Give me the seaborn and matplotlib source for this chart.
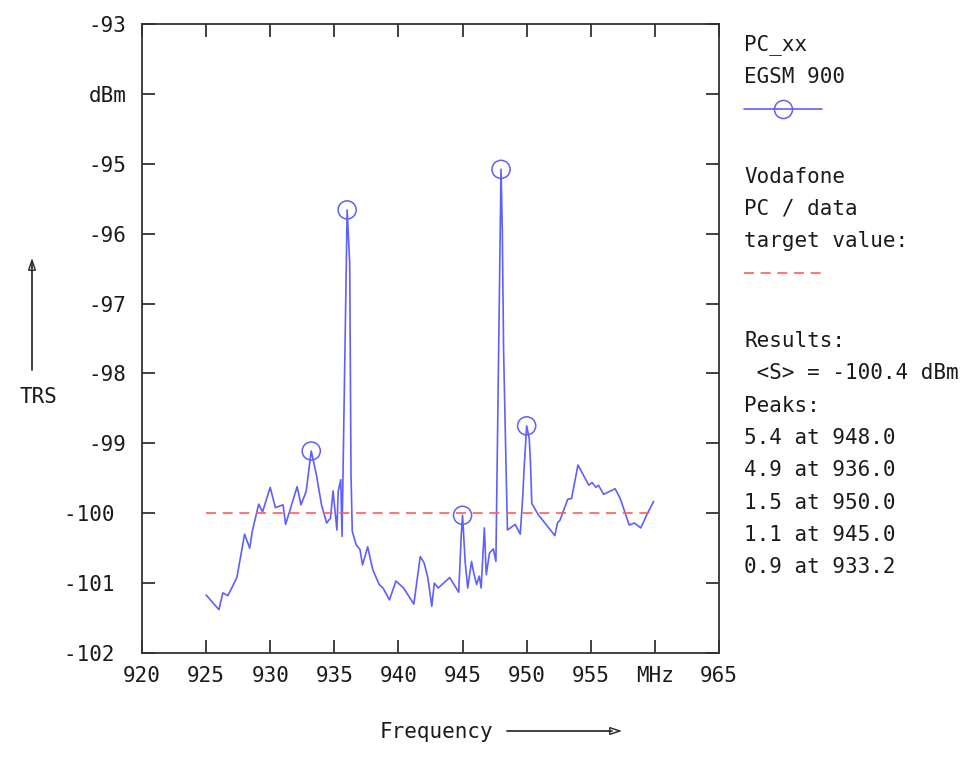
import matplotlib
matplotlib.use("Agg")
import matplotlib.pyplot as plt
import seaborn as sns
import pandas as pd
from matplotlib.lines import Line2D

# ---- data ----
freq = [925.0, 926.0, 926.3, 926.7, 927.4, 928.0, 928.4, 928.6, 929.1, 929.4,
        930.0, 930.4, 931.0, 931.2, 931.5, 932.1, 932.4, 932.8, 933.2, 933.6,
        934.0, 934.4, 934.7, 934.9, 935.2, 935.3, 935.5, 935.6, 935.8, 936.0,
        936.2, 936.3, 936.4, 936.7, 937.0, 937.2, 937.6, 938.0, 938.5, 938.8,
        939.3, 939.8, 940.4, 941.2, 941.7, 942.0, 942.3, 942.6, 942.8, 943.1,
        944.0, 944.7, 944.9, 945.0, 945.2, 945.4, 945.7, 945.9, 946.1, 946.3,
        946.45, 946.7, 946.85, 947.1, 947.4, 947.6, 947.8, 948.0, 948.1, 948.2,
        948.4, 948.5, 949.1, 949.5, 949.7, 949.8, 950.0, 950.2, 950.3, 950.4,
        950.9, 952.2, 952.4, 952.6, 953.2, 953.5, 954.0, 954.85, 955.1, 955.4,
        955.6, 956.0, 956.9, 957.3, 958.0, 958.4, 958.9, 959.4, 959.9]
trs = [-101.17, -101.38, -101.14, -101.18, -100.92, -100.30, -100.50, -100.26, -99.87, -99.98,
       -99.63, -99.92, -99.88, -100.16, -99.98, -99.62, -99.88, -99.69, -99.11, -99.45,
       -99.88, -100.14, -100.07, -99.68, -100.24, -99.69, -99.52, -100.33, -98.00, -95.66,
       -96.43, -99.45, -100.26, -100.45, -100.52, -100.74, -100.48, -100.81, -101.02, -101.07,
       -101.24, -100.97, -101.07, -101.30, -100.62, -100.71, -100.93, -101.33, -101.00, -101.07,
       -100.92, -101.13, -100.31, -100.03, -100.69, -101.07, -100.69, -100.88, -101.02, -100.90,
       -101.07, -100.21, -100.88, -100.57, -100.51, -100.69, -97.88, -95.08, -95.95, -97.67,
       -99.40, -100.24, -100.16, -100.30, -99.74, -99.36, -98.75, -98.93, -99.29, -99.86,
       -100.02, -100.32, -100.14, -100.10, -99.80, -99.79, -99.31, -99.60, -99.56, -99.63,
       -99.60, -99.73, -99.65, -99.79, -100.17, -100.14, -100.21, -100.01, -99.83]

peak_freq = [948.0, 936.0, 950.0, 945.0, 933.2]
peak_trs = [-95.08, -95.66, -98.75, -100.03, -99.11]

target_freq = [925.0, 960.0]
target_trs = [-100.0, -100.0]

x_ticks = [920, 925, 930, 935, 940, 945, 950, 955, 960, 965]
x_labels = ["920", "925", "930", "935", "940", "945", "950", "955", "MHz", "965"]
y_ticks = [-93, -94, -95, -96, -97, -98, -99, -100, -101, -102]
y_labels = ["-93", "dBm", "-95", "-96", "-97", "-98", "-99", "-100 ", "-101 ", "-102 "]

legend_lines = ["PC_xx", "EGSM 900"]
info_lines = ["Vodafone", "PC / data", "target value:"]
result_lines = ["Results:", " <S> = -100.4 dBm", "Peaks:",
                "5.4 at 948.0", "4.9 at 936.0", "1.5 at 950.0",
                "1.1 at 945.0", "0.9 at 933.2"]

# ---- style ----
sns.set_theme(style="ticks")
plt.rcParams["font.family"] = ["DejaVu Sans Mono"]
FS = 15
BLUE = "#5f5fff"
RED = "#ff5c5c"
INK = "#333333"
TXT = "#1a1a1a"

W, H = 971, 762
fig = plt.figure(figsize=(W / 100, H / 100), dpi=100)
fig.patch.set_facecolor("white")

def fx(px):
    return px / W

def fy(py):
    return 1 - py / H

ax = fig.add_axes([fx(142), fy(653), fx(719) - fx(142), fy(24) - fy(653)])
ax.set_facecolor("white")

df = pd.DataFrame({"freq": freq, "trs": trs})
sns.lineplot(data=df, x="freq", y="trs", ax=ax, color=BLUE, linewidth=1.2,
             estimator=None, sort=False)
dft = pd.DataFrame({"freq": target_freq, "trs": target_trs})
sns.lineplot(data=dft, x="freq", y="trs", ax=ax, color=RED, linewidth=1.2,
             estimator=None)
ax.lines[-1].set_dashes((6, 4))
dfp = pd.DataFrame({"freq": peak_freq, "trs": peak_trs})
sns.scatterplot(data=dfp, x="freq", y="trs", ax=ax, s=170, marker="o",
                facecolors="none", edgecolor=BLUE, linewidth=1.1, zorder=5)

ax.set_xlim(920, 965)
ax.set_ylim(-102, -93)
ax.set_xticks(x_ticks)
ax.set_xticklabels(x_labels)
ax.set_yticks(y_ticks)
ax.set_yticklabels(y_labels)
ax.set_xlabel("")
ax.set_ylabel("")
for s in ax.spines.values():
    s.set_visible(True)
    s.set_color(INK)
    s.set_linewidth(1.3)
ax.tick_params(axis="both", direction="in", length=9.5, width=1.3, color=INK,
               labelsize=FS, labelcolor=TXT, top=True, right=True)
ax.tick_params(axis="x", pad=9)
ax.tick_params(axis="y", pad=11)

# ---- axis titles with arrows ----
fig.text(fx(38), fy(397), "TRS", fontsize=FS, ha="center", va="center", color=TXT)
fig.add_artist(Line2D([fx(32), fx(32)], [fy(370), fy(262)], color=INK, lw=1.3))
fig.text(fx(436), fy(732), "Frequency", fontsize=FS, ha="center", va="center", color=TXT)
fig.add_artist(Line2D([fx(507), fx(612)], [fy(731), fy(731)], color=INK, lw=1.3))
ax.annotate("", xy=(fx(625), fy(731)), xycoords="figure fraction",
            xytext=(fx(605), fy(731)), textcoords="figure fraction",
            arrowprops=dict(arrowstyle="-|>,head_length=0.6,head_width=0.2",
                            fc="white", ec=INK, lw=1.1))
ax.annotate("", xy=(fx(32), fy(255)), xycoords="figure fraction",
            xytext=(fx(32), fy(275)), textcoords="figure fraction",
            arrowprops=dict(arrowstyle="-|>,head_length=0.6,head_width=0.2",
                            fc="white", ec=INK, lw=1.1))

# ---- side legend / info ----
LX = 744
y = 45
for t in legend_lines:
    fig.text(fx(LX), fy(y), t, fontsize=FS, ha="left", va="center", color=TXT)
    y += 32
fig.add_artist(Line2D([fx(744), fx(822)], [fy(109), fy(109)], color=BLUE, lw=1.2))
fig.add_artist(Line2D([fx(783)], [fy(109)], color=BLUE, marker="o", markersize=13,
                      markerfacecolor="none", markeredgecolor=BLUE, markeredgewidth=1.1))
y = 177
for t in info_lines:
    fig.text(fx(LX), fy(y), t, fontsize=FS, ha="left", va="center", color=TXT)
    y += 32
fig.add_artist(Line2D([fx(744), fx(822)], [fy(273), fy(273)], color=RED, lw=1.2,
                      dashes=(6, 4)))
y = 341
for t in result_lines:
    fig.text(fx(LX), fy(y), t, fontsize=FS, ha="left", va="center", color=TXT)
    y += 32.3

fig.savefig("out.png", dpi=100, facecolor="white")
